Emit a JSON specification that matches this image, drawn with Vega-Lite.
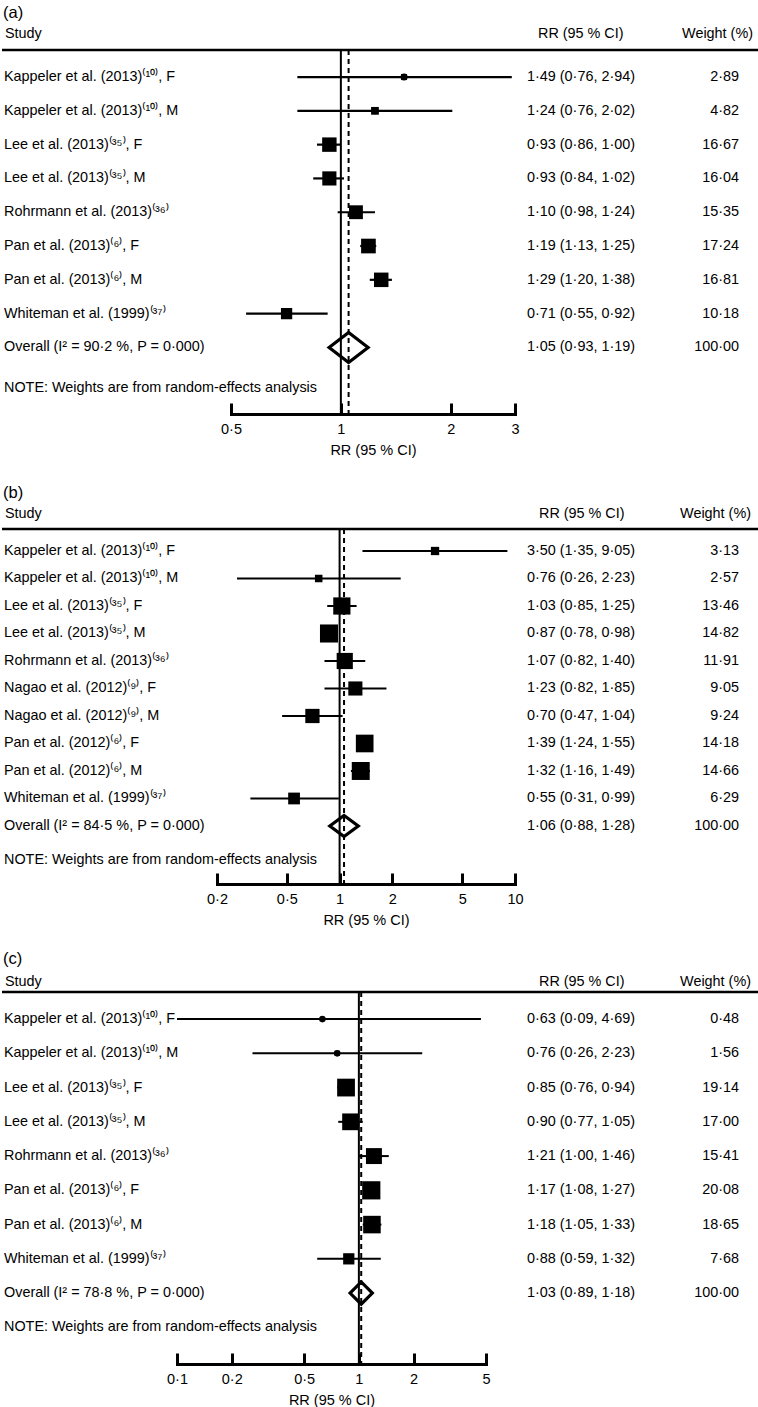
{
"$schema": "https://vega.github.io/schema/vega-lite/v6.json",
"padding": {"left": 0, "top": 4, "right": 0, "bottom": 0},
"background": "white",
"datasets": {
"a": [
{"row":1,"study":"Kappeler et al. (2013)⁽¹⁰⁾, F","rr":1.49,"lo":0.76,"hi":2.94,"w":2.89,"ci":"1·49 (0·76, 2·94)","wt":"2·89","kind":"study"},
{"row":2,"study":"Kappeler et al. (2013)⁽¹⁰⁾, M","rr":1.24,"lo":0.76,"hi":2.02,"w":4.82,"ci":"1·24 (0·76, 2·02)","wt":"4·82","kind":"study"},
{"row":3,"study":"Lee et al. (2013)⁽³⁵⁾, F","rr":0.93,"lo":0.86,"hi":1.00,"w":16.67,"ci":"0·93 (0·86, 1·00)","wt":"16·67","kind":"study"},
{"row":4,"study":"Lee et al. (2013)⁽³⁵⁾, M","rr":0.93,"lo":0.84,"hi":1.02,"w":16.04,"ci":"0·93 (0·84, 1·02)","wt":"16·04","kind":"study"},
{"row":5,"study":"Rohrmann et al. (2013)⁽³⁶⁾","rr":1.10,"lo":0.98,"hi":1.24,"w":15.35,"ci":"1·10 (0·98, 1·24)","wt":"15·35","kind":"study"},
{"row":6,"study":"Pan et al. (2013)⁽⁶⁾, F","rr":1.19,"lo":1.13,"hi":1.25,"w":17.24,"ci":"1·19 (1·13, 1·25)","wt":"17·24","kind":"study"},
{"row":7,"study":"Pan et al. (2013)⁽⁶⁾, M","rr":1.29,"lo":1.20,"hi":1.38,"w":16.81,"ci":"1·29 (1·20, 1·38)","wt":"16·81","kind":"study"},
{"row":8,"study":"Whiteman et al. (1999)⁽³⁷⁾","rr":0.71,"lo":0.55,"hi":0.92,"w":10.18,"ci":"0·71 (0·55, 0·92)","wt":"10·18","kind":"study"},
{"row":9,"study":"Overall (I² = 90·2 %, P = 0·000)","rr":1.05,"lo":0.93,"hi":1.19,"w":100,"ci":"1·05 (0·93, 1·19)","wt":"100·00","kind":"overall"}
],
"b": [
{"row":1,"study":"Kappeler et al. (2013)⁽¹⁰⁾, F","rr":3.50,"lo":1.35,"hi":9.05,"w":3.13,"ci":"3·50 (1·35, 9·05)","wt":"3·13","kind":"study"},
{"row":2,"study":"Kappeler et al. (2013)⁽¹⁰⁾, M","rr":0.76,"lo":0.26,"hi":2.23,"w":2.57,"ci":"0·76 (0·26, 2·23)","wt":"2·57","kind":"study"},
{"row":3,"study":"Lee et al. (2013)⁽³⁵⁾, F","rr":1.03,"lo":0.85,"hi":1.25,"w":13.46,"ci":"1·03 (0·85, 1·25)","wt":"13·46","kind":"study"},
{"row":4,"study":"Lee et al. (2013)⁽³⁵⁾, M","rr":0.87,"lo":0.78,"hi":0.98,"w":14.82,"ci":"0·87 (0·78, 0·98)","wt":"14·82","kind":"study"},
{"row":5,"study":"Rohrmann et al. (2013)⁽³⁶⁾","rr":1.07,"lo":0.82,"hi":1.40,"w":11.91,"ci":"1·07 (0·82, 1·40)","wt":"11·91","kind":"study"},
{"row":6,"study":"Nagao et al. (2012)⁽⁹⁾, F","rr":1.23,"lo":0.82,"hi":1.85,"w":9.05,"ci":"1·23 (0·82, 1·85)","wt":"9·05","kind":"study"},
{"row":7,"study":"Nagao et al. (2012)⁽⁹⁾, M","rr":0.70,"lo":0.47,"hi":1.04,"w":9.24,"ci":"0·70 (0·47, 1·04)","wt":"9·24","kind":"study"},
{"row":8,"study":"Pan et al. (2012)⁽⁶⁾, F","rr":1.39,"lo":1.24,"hi":1.55,"w":14.18,"ci":"1·39 (1·24, 1·55)","wt":"14·18","kind":"study"},
{"row":9,"study":"Pan et al. (2012)⁽⁶⁾, M","rr":1.32,"lo":1.16,"hi":1.49,"w":14.66,"ci":"1·32 (1·16, 1·49)","wt":"14·66","kind":"study"},
{"row":10,"study":"Whiteman et al. (1999)⁽³⁷⁾","rr":0.55,"lo":0.31,"hi":0.99,"w":6.29,"ci":"0·55 (0·31, 0·99)","wt":"6·29","kind":"study"},
{"row":11,"study":"Overall (I² = 84·5 %, P = 0·000)","rr":1.06,"lo":0.88,"hi":1.28,"w":100,"ci":"1·06 (0·88, 1·28)","wt":"100·00","kind":"overall"}
],
"c": [
{"row":1,"study":"Kappeler et al. (2013)⁽¹⁰⁾, F","rr":0.63,"lo":0.09,"hi":4.69,"w":0.48,"ci":"0·63 (0·09, 4·69)","wt":"0·48","kind":"study"},
{"row":2,"study":"Kappeler et al. (2013)⁽¹⁰⁾, M","rr":0.76,"lo":0.26,"hi":2.23,"w":1.56,"ci":"0·76 (0·26, 2·23)","wt":"1·56","kind":"study"},
{"row":3,"study":"Lee et al. (2013)⁽³⁵⁾, F","rr":0.85,"lo":0.76,"hi":0.94,"w":19.14,"ci":"0·85 (0·76, 0·94)","wt":"19·14","kind":"study"},
{"row":4,"study":"Lee et al. (2013)⁽³⁵⁾, M","rr":0.90,"lo":0.77,"hi":1.05,"w":17.00,"ci":"0·90 (0·77, 1·05)","wt":"17·00","kind":"study"},
{"row":5,"study":"Rohrmann et al. (2013)⁽³⁶⁾","rr":1.21,"lo":1.00,"hi":1.46,"w":15.41,"ci":"1·21 (1·00, 1·46)","wt":"15·41","kind":"study"},
{"row":6,"study":"Pan et al. (2013)⁽⁶⁾, F","rr":1.17,"lo":1.08,"hi":1.27,"w":20.08,"ci":"1·17 (1·08, 1·27)","wt":"20·08","kind":"study"},
{"row":7,"study":"Pan et al. (2013)⁽⁶⁾, M","rr":1.18,"lo":1.05,"hi":1.33,"w":18.65,"ci":"1·18 (1·05, 1·33)","wt":"18·65","kind":"study"},
{"row":8,"study":"Whiteman et al. (1999)⁽³⁷⁾","rr":0.88,"lo":0.59,"hi":1.32,"w":7.68,"ci":"0·88 (0·59, 1·32)","wt":"7·68","kind":"study"},
{"row":9,"study":"Overall (I² = 78·8 %, P = 0·000)","rr":1.03,"lo":0.89,"hi":1.18,"w":100,"ci":"1·03 (0·89, 1·18)","wt":"100·00","kind":"overall"}
]
},
"spacing": 27,
"resolve": {"scale": {"size": "independent"}, "legend": {"size": "independent"}},
"vconcat": [
{
"spacing": 0, "bounds": "flush",
"hconcat": [
{"width": 229, "height": 364, "layer": [
 {"data":{"values":[{}]},"mark":{"type":"rule","strokeWidth":2.5},"encoding":{"y":{"datum":0.2,"type":"quantitative","scale":{"domain":[0.2,10.97],"reverse":true,"nice":false,"zero":false},"axis":null}}},
 {"data":{"name":"a"},"mark":{"type":"text","align":"left","dx":2},"encoding":{"x":{"datum":0,"type":"quantitative","scale":{"domain":[0,1]},"axis":null},"y":{"field":"row","type":"quantitative","scale":{"domain":[0.2,10.97],"reverse":true,"nice":false,"zero":false},"axis":null},"text":{"field":"study"}}},
 {"data":{"values":[{}]},"mark":{"type":"text","align":"left","dx":3,"dy":-9,"text":"Study"},"encoding":{"x":{"datum":0,"type":"quantitative"},"y":{"datum":0,"type":"quantitative"}}},
 {"data":{"values":[{}]},"mark":{"type":"text","align":"left","dx":2,"dy":7,"text":"NOTE: Weights are from random-effects analysis"},"encoding":{"x":{"datum":0,"type":"quantitative"},"y":{"datum":10,"type":"quantitative"}}},
 {"data":{"values":[{}]},"mark":{"type":"text","align":"left","dx":1,"fontSize":16.5,"text":"(a)"},"encoding":{"x":{"datum":0,"type":"quantitative"},"y":{"datum":-0.9,"type":"quantitative"}}}
]},
{"width": 284, "height": 364, "layer": [
 {"data":{"values":[{}]},"mark":{"type":"rule","strokeWidth":2.5},"encoding":{"y":{"datum":0.2,"type":"quantitative","scale":{"domain":[0.2,10.97],"reverse":true,"nice":false,"zero":false},"axis":null}}},
 {"data":{"values":[{}]},"mark":{"type":"rule","strokeWidth":2},"encoding":{"x":{"datum":1,"type":"quantitative","scale":{"type":"log","domain":[0.5,3],"nice":false},"axis":{"values":[0.5,1,2,3],"labelExpr":"replace(toString(datum.value), '.', '·')","title":"RR (95 % CI)"}}}},
 {"data":{"name":"a"},"transform":[{"filter":"datum.kind === 'overall'"}],"mark":{"type":"rule","strokeWidth":2,"strokeDash":[5,4]},"encoding":{"x":{"field":"rr","type":"quantitative"}}},
 {"data":{"name":"a"},"transform":[{"filter":"datum.kind === 'study'"}],"mark":{"type":"rule","strokeWidth":2.2},"encoding":{"x":{"field":"lo","type":"quantitative"},"x2":{"field":"hi"},"y":{"field":"row","type":"quantitative"}}},
 {"data":{"name":"a"},"transform":[{"filter":"datum.kind === 'study'"}],"mark":{"type":"point","shape":"circle","filled":true,"size":48,"opacity":1},"encoding":{"x":{"field":"rr","type":"quantitative"},"y":{"field":"row","type":"quantitative"}}},
 {"data":{"name":"a"},"transform":[{"filter":"datum.kind === 'study'"}],"mark":{"type":"point","shape":"square","filled":true,"opacity":1},"encoding":{"x":{"field":"rr","type":"quantitative"},"y":{"field":"row","type":"quantitative"},"size":{"field":"w","type":"quantitative","scale":{"domain":[0,20],"range":[0,250]},"legend":null}}},
 {"data":{"name":"a"},"transform":[{"filter":"datum.kind === 'overall'"}],"mark":{"type":"point","shape":"M-1,0L0,-0.77L1,0L0,0.77Z","filled":false,"strokeWidth":3.2,"size":1521,"opacity":1},"encoding":{"x":{"field":"rr","type":"quantitative"},"y":{"field":"row","type":"quantitative"}}}
]},
{"width": 245, "height": 364, "layer": [
 {"data":{"values":[{}]},"mark":{"type":"rule","strokeWidth":2.5},"encoding":{"y":{"datum":0.2,"type":"quantitative","scale":{"domain":[0.2,10.97],"reverse":true,"nice":false,"zero":false},"axis":null}}},
 {"data":{"name":"a"},"mark":{"type":"text","align":"left","dx":12},"encoding":{"x":{"datum":0,"type":"quantitative","scale":{"domain":[0,1]},"axis":null},"y":{"field":"row","type":"quantitative","scale":{"domain":[0.2,10.97],"reverse":true,"nice":false,"zero":false},"axis":null},"text":{"field":"ci"}}},
 {"data":{"name":"a"},"mark":{"type":"text","align":"right","dx":-21},"encoding":{"x":{"datum":1,"type":"quantitative"},"y":{"field":"row","type":"quantitative"},"text":{"field":"wt"}}},
 {"data":{"values":[{}]},"mark":{"type":"text","align":"left","dx":23,"dy":-9,"text":"RR (95 % CI)"},"encoding":{"x":{"datum":0,"type":"quantitative"},"y":{"datum":0,"type":"quantitative"}}},
 {"data":{"values":[{}]},"mark":{"type":"text","align":"right","dx":-7,"dy":-9,"text":"Weight (%)"},"encoding":{"x":{"datum":1,"type":"quantitative"},"y":{"datum":0,"type":"quantitative"}}}
]}
]
},
{
"spacing": 24,
"resolve": {"scale": {"size": "independent"}, "legend": {"size": "independent"}},
"vconcat": [
{
"spacing": 0, "bounds": "flush",
"hconcat": [
{"width": 215, "height": 355, "layer": [
 {"data":{"values":[{}]},"mark":{"type":"rule","strokeWidth":2.5},"encoding":{"y":{"datum":0.2,"type":"quantitative","scale":{"domain":[0.2,13.11],"reverse":true,"nice":false,"zero":false},"axis":null}}},
 {"data":{"name":"b"},"mark":{"type":"text","align":"left","dx":2},"encoding":{"x":{"datum":0,"type":"quantitative","scale":{"domain":[0,1]},"axis":null},"y":{"field":"row","type":"quantitative","scale":{"domain":[0.2,13.11],"reverse":true,"nice":false,"zero":false},"axis":null},"text":{"field":"study"}}},
 {"data":{"values":[{}]},"mark":{"type":"text","align":"left","dx":3,"dy":-9.5,"text":"Study"},"encoding":{"x":{"datum":0,"type":"quantitative"},"y":{"datum":0,"type":"quantitative"}}},
 {"data":{"values":[{}]},"mark":{"type":"text","align":"left","dx":2,"dy":6.5,"text":"NOTE: Weights are from random-effects analysis"},"encoding":{"x":{"datum":0,"type":"quantitative"},"y":{"datum":12,"type":"quantitative"}}},
 {"data":{"values":[{}]},"mark":{"type":"text","align":"left","dx":1,"fontSize":16.5,"text":"(b)"},"encoding":{"x":{"datum":0,"type":"quantitative"},"y":{"datum":-1.11,"type":"quantitative"}}}
]},
{"width": 298, "height": 355, "layer": [
 {"data":{"values":[{}]},"mark":{"type":"rule","strokeWidth":2.5},"encoding":{"y":{"datum":0.2,"type":"quantitative","scale":{"domain":[0.2,13.11],"reverse":true,"nice":false,"zero":false},"axis":null}}},
 {"data":{"values":[{}]},"mark":{"type":"rule","strokeWidth":2},"encoding":{"x":{"datum":1,"type":"quantitative","scale":{"type":"log","domain":[0.2,10],"nice":false},"axis":{"values":[0.2,0.5,1,2,5,10],"labelExpr":"replace(toString(datum.value), '.', '·')","title":"RR (95 % CI)"}}}},
 {"data":{"name":"b"},"transform":[{"filter":"datum.kind === 'overall'"}],"mark":{"type":"rule","strokeWidth":2,"strokeDash":[5,4]},"encoding":{"x":{"field":"rr","type":"quantitative"}}},
 {"data":{"name":"b"},"transform":[{"filter":"datum.kind === 'study'"}],"mark":{"type":"rule","strokeWidth":2},"encoding":{"x":{"field":"lo","type":"quantitative"},"x2":{"field":"hi"},"y":{"field":"row","type":"quantitative"}}},
 {"data":{"name":"b"},"transform":[{"filter":"datum.kind === 'study'"}],"mark":{"type":"point","shape":"circle","filled":true,"size":40,"opacity":1},"encoding":{"x":{"field":"rr","type":"quantitative"},"y":{"field":"row","type":"quantitative"}}},
 {"data":{"name":"b"},"transform":[{"filter":"datum.kind === 'study'"}],"mark":{"type":"point","shape":"square","filled":true,"opacity":1},"encoding":{"x":{"field":"rr","type":"quantitative"},"y":{"field":"row","type":"quantitative"},"size":{"field":"w","type":"quantitative","scale":{"domain":[0,20],"range":[0,440]},"legend":null}}},
 {"data":{"name":"b"},"transform":[{"filter":"datum.kind === 'overall'"}],"mark":{"type":"point","shape":"M-1,0L0,-0.74L1,0L0,0.74Z","filled":false,"strokeWidth":3.2,"size":812,"opacity":1},"encoding":{"x":{"field":"rr","type":"quantitative"},"y":{"field":"row","type":"quantitative"}}}
]},
{"width": 245, "height": 355, "layer": [
 {"data":{"values":[{}]},"mark":{"type":"rule","strokeWidth":2.5},"encoding":{"y":{"datum":0.2,"type":"quantitative","scale":{"domain":[0.2,13.11],"reverse":true,"nice":false,"zero":false},"axis":null}}},
 {"data":{"name":"b"},"mark":{"type":"text","align":"left","dx":12},"encoding":{"x":{"datum":0,"type":"quantitative","scale":{"domain":[0,1]},"axis":null},"y":{"field":"row","type":"quantitative","scale":{"domain":[0.2,13.11],"reverse":true,"nice":false,"zero":false},"axis":null},"text":{"field":"ci"}}},
 {"data":{"name":"b"},"mark":{"type":"text","align":"right","dx":-21},"encoding":{"x":{"datum":1,"type":"quantitative"},"y":{"field":"row","type":"quantitative"},"text":{"field":"wt"}}},
 {"data":{"values":[{}]},"mark":{"type":"text","align":"left","dx":24,"dy":-9.5,"text":"RR (95 % CI)"},"encoding":{"x":{"datum":0,"type":"quantitative"},"y":{"datum":0,"type":"quantitative"}}},
 {"data":{"values":[{}]},"mark":{"type":"text","align":"right","dx":-9,"dy":-9.5,"text":"Weight (%)"},"encoding":{"x":{"datum":1,"type":"quantitative"},"y":{"datum":0,"type":"quantitative"}}}
]}
]
},
{
"spacing": 0, "bounds": "flush",
"hconcat": [
{"width": 175, "height": 372, "layer": [
 {"data":{"values":[{}]},"mark":{"type":"rule","strokeWidth":2.5},"encoding":{"y":{"datum":0.21,"type":"quantitative","scale":{"domain":[0.21,11.07],"reverse":true,"nice":false,"zero":false},"axis":null}}},
 {"data":{"name":"c"},"mark":{"type":"text","align":"left","dx":2},"encoding":{"x":{"datum":0,"type":"quantitative","scale":{"domain":[0,1]},"axis":null},"y":{"field":"row","type":"quantitative","scale":{"domain":[0.21,11.07],"reverse":true,"nice":false,"zero":false},"axis":null},"text":{"field":"study"}}},
 {"data":{"values":[{}]},"mark":{"type":"text","align":"left","dx":3,"dy":-3,"text":"Study"},"encoding":{"x":{"datum":0,"type":"quantitative"},"y":{"datum":0,"type":"quantitative"}}},
 {"data":{"values":[{}]},"mark":{"type":"text","align":"left","dx":2,"dy":0,"text":"NOTE: Weights are from random-effects analysis"},"encoding":{"x":{"datum":0,"type":"quantitative"},"y":{"datum":10,"type":"quantitative"}}},
 {"data":{"values":[{}]},"mark":{"type":"text","align":"left","dx":1,"fontSize":16.5,"text":"(c)"},"encoding":{"x":{"datum":0,"type":"quantitative"},"y":{"datum":-0.75,"type":"quantitative"}}}
]},
{"width": 309, "height": 372, "layer": [
 {"data":{"values":[{}]},"mark":{"type":"rule","strokeWidth":2.5},"encoding":{"y":{"datum":0.21,"type":"quantitative","scale":{"domain":[0.21,11.07],"reverse":true,"nice":false,"zero":false},"axis":null}}},
 {"data":{"values":[{}]},"mark":{"type":"rule","strokeWidth":2},"encoding":{"x":{"datum":1,"type":"quantitative","scale":{"type":"log","domain":[0.1,5],"nice":false,"clamp":true},"axis":{"values":[0.1,0.2,0.5,1,2,5],"labelExpr":"replace(toString(datum.value), '.', '·')","title":"RR (95 % CI)"}}}},
 {"data":{"name":"c"},"transform":[{"filter":"datum.kind === 'overall'"}],"mark":{"type":"rule","strokeWidth":2,"strokeDash":[5,4]},"encoding":{"x":{"field":"rr","type":"quantitative"}}},
 {"data":{"name":"c"},"transform":[{"filter":"datum.kind === 'study'"}],"mark":{"type":"rule","strokeWidth":2},"encoding":{"x":{"field":"lo","type":"quantitative"},"x2":{"field":"hi"},"y":{"field":"row","type":"quantitative"}}},
 {"data":{"name":"c"},"transform":[{"filter":"datum.kind === 'study'"}],"mark":{"type":"point","shape":"circle","filled":true,"size":44,"opacity":1},"encoding":{"x":{"field":"rr","type":"quantitative"},"y":{"field":"row","type":"quantitative"}}},
 {"data":{"name":"c"},"transform":[{"filter":"datum.kind === 'study'"}],"mark":{"type":"point","shape":"square","filled":true,"opacity":1},"encoding":{"x":{"field":"rr","type":"quantitative"},"y":{"field":"row","type":"quantitative"},"size":{"field":"w","type":"quantitative","scale":{"domain":[0,20],"range":[0,330]},"legend":null}}},
 {"data":{"name":"c"},"transform":[{"filter":"datum.kind === 'overall'"}],"mark":{"type":"point","shape":"M-1,0L0,-1L1,0L0,1Z","filled":false,"strokeWidth":3.2,"size":497,"opacity":1},"encoding":{"x":{"field":"rr","type":"quantitative"},"y":{"field":"row","type":"quantitative"}}}
]},
{"width": 274, "height": 372, "layer": [
 {"data":{"values":[{}]},"mark":{"type":"rule","strokeWidth":2.5},"encoding":{"y":{"datum":0.21,"type":"quantitative","scale":{"domain":[0.21,11.07],"reverse":true,"nice":false,"zero":false},"axis":null}}},
 {"data":{"name":"c"},"mark":{"type":"text","align":"left","dx":41},"encoding":{"x":{"datum":0,"type":"quantitative","scale":{"domain":[0,1]},"axis":null},"y":{"field":"row","type":"quantitative","scale":{"domain":[0.21,11.07],"reverse":true,"nice":false,"zero":false},"axis":null},"text":{"field":"ci"}}},
 {"data":{"name":"c"},"mark":{"type":"text","align":"right","dx":-21},"encoding":{"x":{"datum":1,"type":"quantitative"},"y":{"field":"row","type":"quantitative"},"text":{"field":"wt"}}},
 {"data":{"values":[{}]},"mark":{"type":"text","align":"left","dx":53,"dy":-3,"text":"RR (95 % CI)"},"encoding":{"x":{"datum":0,"type":"quantitative"},"y":{"datum":0,"type":"quantitative"}}},
 {"data":{"values":[{}]},"mark":{"type":"text","align":"right","dx":-9,"dy":-3,"text":"Weight (%)"},"encoding":{"x":{"datum":1,"type":"quantitative"},"y":{"datum":0,"type":"quantitative"}}}
]}
]
}
]
}
],
"config": {
 "view": {"stroke": null},
 "font": "Liberation Sans",
 "text": {"font": "Liberation Sans", "fontSize": 14.4, "color": "black", "baseline": "middle"},
 "rule": {"color": "black"},
 "point": {"color": "black"},
 "axisX": {"grid": false, "domainWidth": 3, "domainColor": "black", "domainCap": "square", "tickSize": -11, "tickWidth": 3, "tickColor": "black", "labelFontSize": 14.5, "labelFont": "Liberation Sans", "labelColor": "black", "labelPadding": 19, "labelFlush": false, "labelOverlap": false, "labelBound": false, "titleFontSize": 14.5, "titleFont": "Liberation Sans", "titleFontWeight": "normal", "titleColor": "black", "titlePadding": 8}
}
}
